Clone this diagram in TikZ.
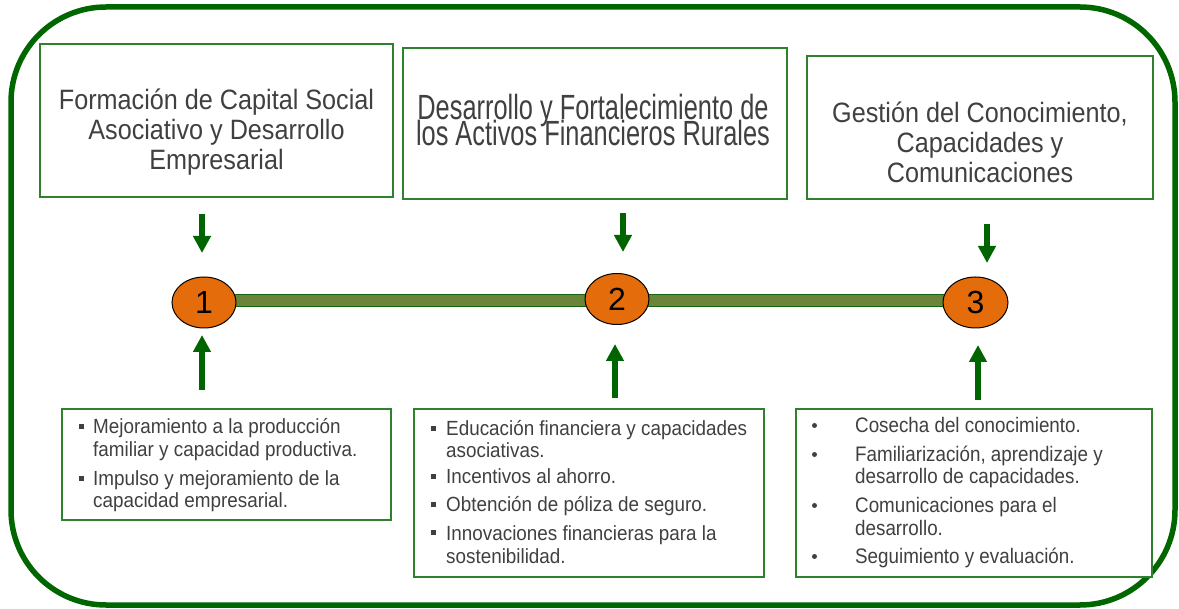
\documentclass[tikz,border=0pt]{standalone}
\usepackage{fontspec}
\setmainfont{Liberation Sans}
\newfontfamily\topfont[FakeStretch=0.9]{Liberation Sans}
\newfontfamily\midfont[FakeStretch=0.725]{Liberation Sans}
\newfontfamily\botfont[FakeStretch=0.92]{Liberation Sans}
\newfontfamily\botfontc[FakeStretch=0.895]{Liberation Sans}
\usetikzlibrary{shapes.geometric,arrows.meta}
\definecolor{fgreen}{RGB}{0,102,0}
\definecolor{bgreen}{RGB}{46,130,46}
\definecolor{agreen}{RGB}{0,100,0}
\definecolor{barfill}{RGB}{107,132,56}
\definecolor{barline}{RGB}{20,100,20}
\definecolor{orng}{RGB}{228,108,10}
\definecolor{tgray}{RGB}{64,64,64}
\tikzset{
  frame/.style={draw=fgreen,line width=5.5pt,rounded corners=95pt},
  topbox/.style={draw=bgreen,line width=1.3pt,fill=white,inner sep=0pt},
  botbox/.style={draw=bgreen,line width=1.3pt,fill=white,inner sep=0pt},
  toptxt/.style={inner sep=0pt,anchor=base,text=tgray,font=\topfont\fontsize{28}{30}\selectfont},
  midtxt/.style={inner sep=0pt,anchor=base,text=tgray,font=\midfont\fontsize{35}{26}\selectfont},
  bottxt/.style={inner sep=0pt,anchor=base west,text=tgray,font=\botfont\fontsize{20.5}{22}\selectfont},
  bottxtc/.style={inner sep=0pt,anchor=base west,text=tgray,font=\botfontc\fontsize{21}{22}\selectfont},
  sqbullet/.style={rectangle,fill=tgray,inner sep=0pt,minimum size=5pt},
  dotbullet/.style={circle,fill=tgray,inner sep=0pt,minimum size=5pt},
  numell/.style={ellipse,draw=black,line width=1pt,fill=orng,inner sep=0pt,
    minimum width=64pt,minimum height=51pt,font=\fontsize{32}{34}\selectfont,text=black},
  barbox/.style={rectangle,draw=barline,line width=1pt,fill=barfill,inner sep=0pt},
  garrow/.style={draw=agreen,line width=6pt,-{Triangle[width=17pt,length=17pt]}}
}
\begin{document}
\begin{tikzpicture}[x=1pt,y=-1pt]
\useasboundingbox (0,0) rectangle (1179,609);
\fill[white] (0,0) rectangle (1179,609);
% outer frame
\draw[frame] (11,7) rectangle (1175,605);

% top boxes
\node[topbox,minimum width=353pt,minimum height=153pt] (b1) at (216.5,120.5) {};
\node[topbox,minimum width=384pt,minimum height=151pt] (b2) at (595,123.5) {};
\node[topbox,minimum width=346pt,minimum height=143pt] (b3) at (980,127.5) {};

\node[toptxt] (t1a) at (216.5,110) {Formación de Capital Social};
\node[toptxt] (t1b) at (216.5,140) {Asociativo y Desarrollo};
\node[toptxt] (t1c) at (216.5,170) {Empresarial};

\node[midtxt] (t2) at (593,120) {\vtop{\baselineskip=26pt\lineskiplimit=-100pt\lineskip=0pt
  \halign{\hfil#\hfil\cr Desarrollo y Fortalecimiento de\cr los Activos Financieros Rurales\cr}}};

\node[toptxt] (t3a) at (980,123) {Gestión del Conocimiento,};
\node[toptxt] (t3b) at (980,153) {Capacidades y};
\node[toptxt] (t3c) at (980,183) {Comunicaciones};

% bar and ellipses
\node[barbox,minimum width=771pt,minimum height=12.4pt] (bar) at (589.75,300.5) {};
\node[numell] (c1) at (204,302.5) {1};
\node[numell] (c2) at (617,299) {2};
\node[numell,minimum width=65pt] (c3) at (975.5,302.5) {3};

% arrows
\coordinate (d1s) at (202,214); \coordinate (d1e) at (202,253);
\coordinate (d2s) at (623,213); \coordinate (d2e) at (623,252);
\coordinate (d3s) at (987,224); \coordinate (d3e) at (987,263);
\coordinate (u1s) at (202,390); \coordinate (u1e) at (202,335);
\coordinate (u2s) at (615,398); \coordinate (u2e) at (615,344);
\coordinate (u3s) at (978,400); \coordinate (u3e) at (978,345);
\draw[garrow] (d1s) -- (d1e);
\draw[garrow] (d2s) -- (d2e);
\draw[garrow] (d3s) -- (d3e);
\draw[garrow] (u1s) -- (u1e);
\draw[garrow] (u2s) -- (u2e);
\draw[garrow] (u3s) -- (u3e);

% bottom boxes
\node[botbox,minimum width=329pt,minimum height=111pt] (bA) at (226.5,464.5) {};
\node[botbox,minimum width=350pt,minimum height=168pt] (bB) at (589,493) {};
\node[botbox,minimum width=356pt,minimum height=168pt] (bC) at (974,493) {};

% box A
\node[sqbullet] (sA1) at (81.8,427) {};
\node[sqbullet] (sA2) at (81.8,479) {};
\node[bottxt] (lA1) at (93,434) {Mejoramiento a la producción};
\node[bottxt] (lA2) at (93,457) {familiar y capacidad productiva.};
\node[bottxt] (lA3) at (93,486) {Impulso y mejoramiento de la};
\node[bottxt] (lA4) at (93,508) {capacidad empresarial.};

% box B
\node[sqbullet] (sB1) at (433.5,429) {};
\node[sqbullet] (sB2) at (433.5,477) {};
\node[sqbullet] (sB3) at (433.5,505) {};
\node[sqbullet] (sB4) at (433.5,533) {};
\node[bottxt] (lB1) at (446,436) {Educación financiera y capacidades};
\node[bottxt] (lB2) at (446,458) {asociativas.};
\node[bottxt] (lB3) at (446,484) {Incentivos al ahorro.};
\node[bottxt] (lB4) at (446,512) {Obtención de póliza de seguro.};
\node[bottxt] (lB5) at (446,540) {Innovaciones financieras para la};
\node[bottxt] (lB6) at (446,563) {sostenibilidad.};

% box C
\node[dotbullet] (sC1) at (814.5,425.5) {};
\node[dotbullet] (sC2) at (814.5,454.5) {};
\node[dotbullet] (sC3) at (814.5,505.5) {};
\node[dotbullet] (sC4) at (814.5,556.5) {};
\node[bottxtc] (lC1) at (855,433) {Cosecha del conocimiento.};
\node[bottxtc] (lC2) at (855,462) {Familiarización, aprendizaje y};
\node[bottxtc] (lC3) at (855,484) {desarrollo de capacidades.};
\node[bottxtc] (lC4) at (855,513) {Comunicaciones para el};
\node[bottxtc] (lC5) at (855,536) {desarrollo.};
\node[bottxtc] (lC6) at (855,564) {Seguimiento y evaluación.};
\end{tikzpicture}
\end{document}
